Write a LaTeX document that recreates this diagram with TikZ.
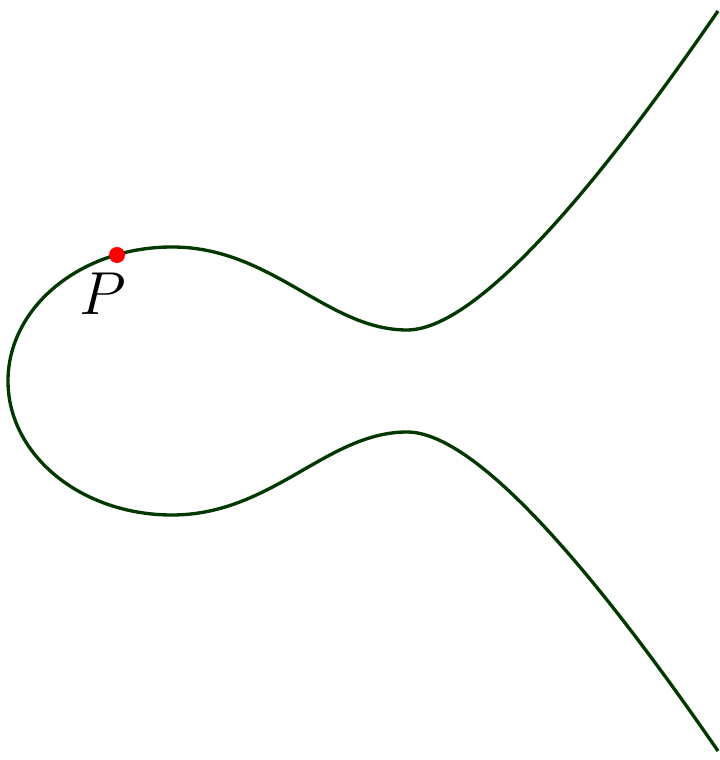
\documentclass[tikz,border=0pt]{standalone}
\usepackage{tikz}

\definecolor{curvegreen}{RGB}{0,56,0}

\begin{document}
\begin{tikzpicture}[scale=1,
    curve/.style={draw=curvegreen, line width=0.95pt},
    pointdot/.style={circle, fill=red, inner sep=0pt, minimum size=0.16cm}]
    \useasboundingbox (-4.07,-3.79) rectangle (3.13,3.81);

    % elliptic curve, lower branch up to the upper branch
    \draw[curve] (3.11,-3.70)
        .. controls (2.21,-2.395) and (0.8,-0.51) .. (0,-0.51)
        .. controls (-0.8,-0.51) and (-1.35,-1.34) .. (-2.35,-1.34)
        .. controls (-3.26,-1.34) and (-3.99,-0.74) .. (-3.99,0)
        .. controls (-3.99,0.74) and (-3.26,1.34) .. (-2.35,1.34)
        .. controls (-1.35,1.34) and (-0.8,0.51) .. (0,0.51)
        .. controls (0.8,0.51) and (2.21,2.395) .. (3.11,3.70);

    \node[pointdot] (P) at (-2.9,1.26) {};
    \node (Plabel) at (-3.04,0.87) {\LARGE $P$};
\end{tikzpicture}
\end{document}
